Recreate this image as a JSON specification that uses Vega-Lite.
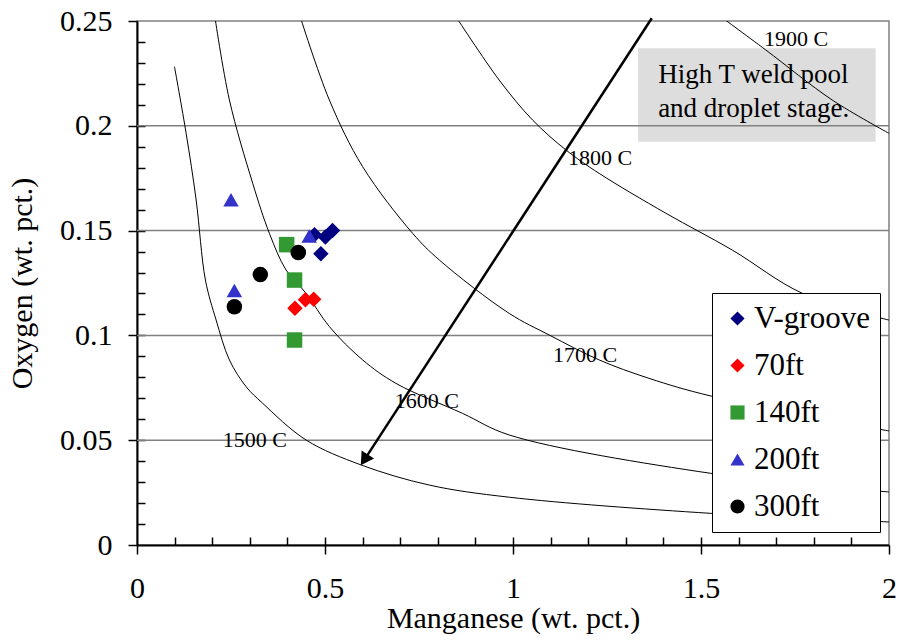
{
  "$schema": "https://vega.github.io/schema/vega-lite/v6.json",
  "width": 752,
  "height": 524,
  "autosize": {"type": "none"},
  "padding": {"left": 137, "top": 21, "right": 14, "bottom": 99},
  "background": "white",
  "config": {
    "view": {"stroke": "#808080", "strokeWidth": 1.5},
    "font": "Liberation Serif",
    "axis": {"titleFontWeight": 400, "labelFont": "Liberation Serif", "titleFont": "Liberation Serif"},
    "legend": {"labelFont": "Liberation Serif"}
  },
  "datasets": {
    "box": [{"x1": 1.3327, "x2": 1.9644, "y1": 0.2370, "y2": 0.1924}],
    "grid": [{"o": 0.05}, {"o": 0.1}, {"o": 0.15}, {"o": 0.2}],
    "curves": [
      {"curve": "1500", "mn": 0.0997, "o": 0.2282},
      {"curve": "1500", "mn": 0.1307, "o": 0.1964},
      {"curve": "1500", "mn": 0.1573, "o": 0.1646},
      {"curve": "1500", "mn": 0.182, "o": 0.1264},
      {"curve": "1500", "mn": 0.2105, "o": 0.1073},
      {"curve": "1500", "mn": 0.2458, "o": 0.0883},
      {"curve": "1500", "mn": 0.2903, "o": 0.0755},
      {"curve": "1500", "mn": 0.3343, "o": 0.0676},
      {"curve": "1500", "mn": 0.4496, "o": 0.0501},
      {"curve": "1500", "mn": 0.5958, "o": 0.0382},
      {"curve": "1500", "mn": 0.7773, "o": 0.0286},
      {"curve": "1500", "mn": 0.9899, "o": 0.0228},
      {"curve": "1500", "mn": 1.5259, "o": 0.0151},
      {"curve": "1500", "mn": 2.0, "o": 0.011},
      {"curve": "1600", "mn": 0.206, "o": 0.2533},
      {"curve": "1600", "mn": 0.2458, "o": 0.2123},
      {"curve": "1600", "mn": 0.3077, "o": 0.1726},
      {"curve": "1600", "mn": 0.3521, "o": 0.1487},
      {"curve": "1600", "mn": 0.3965, "o": 0.1312},
      {"curve": "1600", "mn": 0.4496, "o": 0.1201},
      {"curve": "1600", "mn": 0.5116, "o": 0.1042},
      {"curve": "1600", "mn": 0.6001, "o": 0.0883},
      {"curve": "1600", "mn": 0.6888, "o": 0.0771},
      {"curve": "1600", "mn": 0.8658, "o": 0.0628},
      {"curve": "1600", "mn": 0.9899, "o": 0.0525},
      {"curve": "1600", "mn": 1.5259, "o": 0.0342},
      {"curve": "1600", "mn": 2.0, "o": 0.0253},
      {"curve": "1700", "mn": 0.4318, "o": 0.2533},
      {"curve": "1700", "mn": 0.5116, "o": 0.2123},
      {"curve": "1700", "mn": 0.6001, "o": 0.1805},
      {"curve": "1700", "mn": 0.733, "o": 0.1487},
      {"curve": "1700", "mn": 0.8039, "o": 0.136},
      {"curve": "1700", "mn": 0.9899, "o": 0.1105},
      {"curve": "1700", "mn": 1.0962, "o": 0.1002},
      {"curve": "1700", "mn": 1.2291, "o": 0.0883},
      {"curve": "1700", "mn": 1.362, "o": 0.0795},
      {"curve": "1700", "mn": 1.5259, "o": 0.0711},
      {"curve": "1700", "mn": 2.0, "o": 0.0544},
      {"curve": "1800", "mn": 0.8437, "o": 0.2533},
      {"curve": "1800", "mn": 0.9633, "o": 0.2218},
      {"curve": "1800", "mn": 1.0518, "o": 0.2028},
      {"curve": "1800", "mn": 1.1406, "o": 0.1885},
      {"curve": "1800", "mn": 1.2291, "o": 0.1773},
      {"curve": "1800", "mn": 1.4063, "o": 0.1583},
      {"curve": "1800", "mn": 1.5833, "o": 0.1407},
      {"curve": "1800", "mn": 1.7693, "o": 0.1201},
      {"curve": "1800", "mn": 2.0, "o": 0.1073},
      {"curve": "1900", "mn": 1.5434, "o": 0.2533},
      {"curve": "1900", "mn": 1.6721, "o": 0.2362},
      {"curve": "1900", "mn": 1.849, "o": 0.2123},
      {"curve": "1900", "mn": 2.0, "o": 0.1964}
    ],
    "curveLabels": [
      {"label": "1500 C", "mn": 0.3136, "o": 0.0469},
      {"label": "1600 C", "mn": 0.7707, "o": 0.0652},
      {"label": "1700 C", "mn": 1.1919, "o": 0.0872},
      {"label": "1800 C", "mn": 1.2317, "o": 0.1813},
      {"label": "1900 C", "mn": 1.7527, "o": 0.2382}
    ],
    "note": [
      {"text": "High T weld pool", "mn": 1.386, "o": 0.2204},
      {"text": "and droplet stage.", "mn": 1.386, "o": 0.2042}
    ],
    "arrow": [
      {"mn": 1.369, "o": 0.2513},
      {"mn": 0.6046, "o": 0.0406}
    ],
    "arrowHead": [{"mn": 0.6046, "o": 0.0406}],
    "points": [
      {"series": "V-groove", "mn": 0.472, "o": 0.148},
      {"series": "V-groove", "mn": 0.489, "o": 0.139},
      {"series": "V-groove", "mn": 0.501, "o": 0.147},
      {"series": "V-groove", "mn": 0.520, "o": 0.150},
      {"series": "70ft", "mn": 0.420, "o": 0.113},
      {"series": "70ft", "mn": 0.448, "o": 0.117},
      {"series": "70ft", "mn": 0.470, "o": 0.1172},
      {"series": "140ft", "mn": 0.398, "o": 0.1433},
      {"series": "140ft", "mn": 0.419, "o": 0.1264},
      {"series": "140ft", "mn": 0.419, "o": 0.0978},
      {"series": "200ft", "mn": 0.250, "o": 0.1647},
      {"series": "200ft", "mn": 0.458, "o": 0.1474},
      {"series": "200ft", "mn": 0.259, "o": 0.1214},
      {"series": "300ft", "mn": 0.429, "o": 0.1396},
      {"series": "300ft", "mn": 0.328, "o": 0.129},
      {"series": "300ft", "mn": 0.259, "o": 0.1137}
    ]
  },
  "layer": [
    {
      "data": {"name": "box"},
      "mark": {"type": "rect", "fill": "#dddddd"},
      "encoding": {
        "x": {"field": "x1", "type": "quantitative", "scale": {"domain": [0, 2], "nice": false}, "axis": null},
        "x2": {"field": "x2"},
        "y": {"field": "y1", "type": "quantitative", "scale": {"domain": [0, 0.25], "nice": false}, "axis": null},
        "y2": {"field": "y2"}
      }
    },
    {
      "data": {"name": "grid"},
      "mark": {"type": "rule", "color": "#808080", "strokeWidth": 1.5},
      "encoding": {
        "y": {"field": "o", "type": "quantitative", "axis": null}
      }
    },
    {
      "data": {"name": "curves"},
      "mark": {"type": "line", "color": "black", "strokeWidth": 1, "interpolate": "catmull-rom", "clip": true},
      "encoding": {
        "x": {
          "field": "mn", "type": "quantitative",
          "axis": {
            "orient": "bottom", "values": [0.1, 0.2, 0.3, 0.4, 0.5, 0.6, 0.7, 0.8, 0.9, 1.0, 1.1, 1.2, 1.3, 1.4, 1.5, 1.6, 1.7, 1.8, 1.9],
            "tickSize": -8, "tickWidth": 1.5, "tickColor": "black", "labels": false, "domain": false, "grid": false, "title": null
          }
        },
        "y": {
          "field": "o", "type": "quantitative",
          "axis": {
            "orient": "left", "values": [0.01, 0.02, 0.03, 0.04, 0.05, 0.06, 0.07, 0.08, 0.09, 0.1, 0.11, 0.12, 0.13, 0.14, 0.15, 0.16, 0.17, 0.18, 0.19, 0.2, 0.21, 0.22, 0.23, 0.24],
            "tickSize": -8, "tickWidth": 1.5, "tickColor": "black", "labels": false, "domain": false, "grid": false, "title": null
          }
        },
        "detail": {"field": "curve", "type": "nominal"}
      }
    },
    {
      "data": {"name": "curveLabels"},
      "mark": {"type": "text", "fontSize": 22, "font": "Liberation Serif", "color": "black", "align": "center", "baseline": "alphabetic"},
      "encoding": {
        "x": {"field": "mn", "type": "quantitative", "axis": null},
        "y": {"field": "o", "type": "quantitative", "axis": null},
        "text": {"field": "label"}
      }
    },
    {
      "data": {"name": "note"},
      "mark": {"type": "text", "fontSize": 27, "font": "Liberation Serif", "color": "black", "align": "left", "baseline": "alphabetic"},
      "encoding": {
        "x": {"field": "mn", "type": "quantitative", "axis": null},
        "y": {"field": "o", "type": "quantitative", "axis": null},
        "text": {"field": "text"}
      }
    },
    {
      "data": {"name": "arrow"},
      "mark": {"type": "line", "color": "black", "strokeWidth": 2.5},
      "encoding": {
        "x": {"field": "mn", "type": "quantitative", "axis": null},
        "y": {"field": "o", "type": "quantitative", "axis": null}
      }
    },
    {
      "data": {"name": "arrowHead"},
      "mark": {"type": "point", "shape": "triangle-down", "filled": true, "color": "black", "size": 220, "angle": 33, "opacity": 1},
      "encoding": {
        "x": {"field": "mn", "type": "quantitative", "axis": null},
        "y": {"field": "o", "type": "quantitative", "axis": null}
      }
    },
    {
      "data": {"name": "points"},
      "mark": {"type": "point", "filled": true, "size": 240, "opacity": 1},
      "encoding": {
        "x": {
          "field": "mn", "type": "quantitative",
          "axis": {
            "orient": "bottom", "values": [0, 0.5, 1, 1.5, 2], "format": "~g",
            "tickSize": 9, "tickWidth": 1.5, "tickColor": "black",
            "domainColor": "black", "domainWidth": 2, "grid": false,
            "labelFont": "Liberation Serif", "labelFontSize": 30, "labelColor": "black", "labelPadding": 19, "labelFlush": false,
            "title": "Manganese (wt. pct.)", "titleFont": "Liberation Serif", "titleFontSize": 30, "titleFontWeight": 400, "titleColor": "black", "titlePadding": 0
          }
        },
        "y": {
          "field": "o", "type": "quantitative",
          "axis": {
            "orient": "left", "values": [0, 0.05, 0.1, 0.15, 0.2, 0.25], "format": "~g",
            "tickSize": 9, "tickWidth": 1.5, "tickColor": "black",
            "domainColor": "black", "domainWidth": 2, "grid": false,
            "labelFont": "Liberation Serif", "labelFontSize": 30, "labelColor": "black", "labelPadding": 16,
            "title": "Oxygen (wt. pct.)", "titleFont": "Liberation Serif", "titleFontSize": 30, "titleFontWeight": 400, "titleColor": "black", "titlePadding": 22
          }
        },
        "color": {
          "field": "series", "type": "nominal",
          "scale": {"domain": ["V-groove", "70ft", "140ft", "200ft", "300ft"], "range": ["#000080", "#ff0000", "#339933", "#3333cc", "#000000"]},
          "legend": {
            "title": null, "orient": "none", "legendX": 575, "legendY": 272,
            "padding": 10, "strokeColor": "black", "fillColor": "white",
            "labelFont": "Liberation Serif", "labelFontSize": 31, "labelColor": "black",
            "symbolSize": 200, "rowPadding": 15, "labelOffset": 1, "symbolStrokeWidth": 0, "symbolOpacity": 1
          }
        },
        "shape": {
          "field": "series", "type": "nominal",
          "scale": {"domain": ["V-groove", "70ft", "140ft", "200ft", "300ft"], "range": ["diamond", "diamond", "square", "triangle-up", "circle"]},
          "legend": {
            "title": null, "orient": "none", "legendX": 575, "legendY": 272,
            "padding": 10, "strokeColor": "black", "fillColor": "white",
            "labelFont": "Liberation Serif", "labelFontSize": 31, "labelColor": "black",
            "symbolSize": 200, "rowPadding": 15, "labelOffset": 1, "symbolStrokeWidth": 0, "symbolOpacity": 1
          }
        }
      }
    }
  ],
  "resolve": {"axis": {"x": "independent", "y": "independent"}}
}
